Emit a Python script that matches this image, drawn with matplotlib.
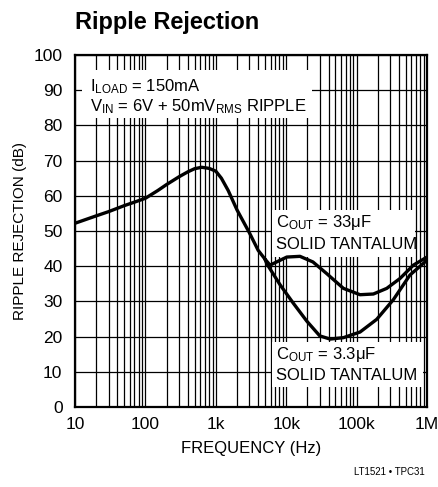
import matplotlib
matplotlib.use("Agg")
import matplotlib.pyplot as plt
from matplotlib import font_manager
from matplotlib.patches import Rectangle
from matplotlib.ticker import FixedLocator, FixedFormatter, LogLocator, NullFormatter

names = {f.name for f in font_manager.fontManager.ttflist}
FONT = "Liberation Sans Narrow" if "Liberation Sans Narrow" in names else "Liberation Sans"
NARROW = FONT == "Liberation Sans Narrow"
plt.rcParams["font.family"] = [FONT, "DejaVu Sans"]
plt.rcParams["mathtext.fontset"] = "custom"
plt.rcParams["mathtext.rm"] = FONT
plt.rcParams["mathtext.it"] = FONT

# ---- data ----
freq_shared = [10, 20, 30, 50, 70, 100, 150, 200, 300, 400, 500, 630, 800, 1000,
               1200, 1500, 2000, 3000, 4000, 5000]
db_shared = [52.2, 54.3, 55.5, 57.2, 58.2, 59.3, 61.5, 63.2, 65.4, 66.8, 67.7, 68.1,
             67.8, 67.0, 65.0, 61.5, 56.0, 49.5, 44.5, 42.0]

freq_33u = [5000, 5900, 7300, 10200, 15700, 24000, 37600, 65000, 112000, 173000,
            268000, 413000, 640000, 1000000]
db_33u = [42.0, 40.3, 41.2, 42.6, 42.8, 41.2, 37.9, 33.7, 31.9, 32.1, 33.7, 36.5,
          40.3, 42.6]

freq_3u3 = [5000, 5300, 8200, 12600, 19600, 30000, 42000, 65000, 112000, 193000,
            333000, 573000, 1000000]
db_3u3 = [42.0, 40.7, 34.7, 29.5, 24.4, 20.2, 19.3, 19.7, 21.3, 24.9, 30.5, 37.5,
          41.7]

x_ticks = [10, 100, 1000, 10000, 100000, 1000000]
x_labels = ["10", "100", "1k", "10k", "100k", "1M"]
y_ticks = list(range(0, 101, 10))
y_labels = [str(v) for v in y_ticks]

# ---- figure ----
fig = plt.figure(figsize=(4.38, 4.87), dpi=100)
ax = fig.add_axes([75 / 438, 80 / 487, 352 / 438, 352 / 487])

ax.set_xscale("log")
ax.set_xlim(10, 1e6)
ax.set_ylim(0, 100)

ax.xaxis.set_major_locator(FixedLocator(x_ticks))
ax.xaxis.set_major_formatter(FixedFormatter(x_labels))
ax.xaxis.set_minor_locator(LogLocator(base=10, subs=range(2, 10)))
ax.xaxis.set_minor_formatter(NullFormatter())
ax.yaxis.set_major_locator(FixedLocator(y_ticks))
ax.yaxis.set_major_formatter(FixedFormatter(y_labels))

k = 1.12 if NARROW else 1.0
ax.set_axisbelow(True)
ax.grid(True, which="major", color="black", lw=0.9)
ax.grid(True, which="minor", axis="x", color="black", lw=0.9)
ax.tick_params(which="both", length=0, labelsize=12.5 * k)
ax.tick_params(axis="x", pad=7)
ax.tick_params(axis="y", pad=9)
for s in ax.spines.values():
    s.set_linewidth(1.6)

# white boxes that interrupt the grid behind the annotations
for (x0, y0, w, h) in [(0.02, 0.821, 0.653, 0.136),
                       (0.56, 0.426, 0.406, 0.134),
                       (0.56, 0.057, 0.429, 0.128)]:
    ax.add_patch(Rectangle((x0, y0), w, h, transform=ax.transAxes,
                           facecolor="white", edgecolor="none", zorder=1))

lw = 2.4
ax.plot(freq_shared, db_shared, color="black", lw=lw, zorder=3, solid_capstyle="round")
ax.plot(freq_33u, db_33u, color="black", lw=lw, zorder=3, solid_capstyle="round")
ax.plot(freq_3u3, db_3u3, color="black", lw=lw, zorder=3, solid_capstyle="round")

fs = 12.0 * k
ax.text(0.043, 0.91, r"I$_{\mathrm{LOAD}}$ = 150mA", transform=ax.transAxes,
        fontsize=fs, va="center", ha="left", zorder=4)
ax.text(0.043, 0.853, r"V$_{\mathrm{IN}}$ = 6V + 50mV$_{\mathrm{RMS}}$ RIPPLE",
        transform=ax.transAxes, fontsize=fs, va="center", ha="left", zorder=4)
ax.text(0.572, 0.524, r"C$_{\mathrm{OUT}}$ = 33μF", transform=ax.transAxes,
        fontsize=fs, va="center", ha="left", zorder=4)
ax.text(0.572, 0.462, "SOLID TANTALUM", transform=ax.transAxes,
        fontsize=fs, va="center", ha="left", zorder=4)
ax.text(0.572, 0.15, r"C$_{\mathrm{OUT}}$ = 3.3μF", transform=ax.transAxes,
        fontsize=fs, va="center", ha="left", zorder=4)
ax.text(0.572, 0.09, "SOLID TANTALUM", transform=ax.transAxes,
        fontsize=fs, va="center", ha="left", zorder=4)

fig.text(75 / 438, 1 - 22 / 487, "Ripple Rejection", fontsize=17 * k, fontweight="bold",
         ha="left", va="center")
fig.text(20 / 438, 1 - 231 / 487, "RIPPLE REJECTION (dB)", fontsize=11 * k, rotation=90,
         ha="center", va="center")
fig.text(251 / 438, 1 - 448 / 487, "FREQUENCY (Hz)", fontsize=12 * k,
         ha="center", va="center")
fig.text(425 / 438, 1 - 472 / 487, "LT1521 • TPC31", fontsize=7 * k,
         ha="right", va="center")

fig.savefig("out.png", dpi=100)
